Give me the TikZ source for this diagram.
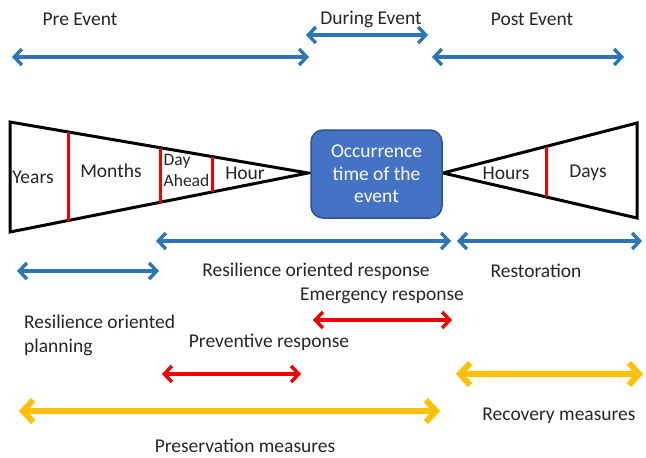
\documentclass[tikz,border=0pt]{standalone}
\usepackage{fontspec}
\setmainfont{Carlito}
\usetikzlibrary{arrows.meta}
\definecolor{spanblue}{HTML}{2E75B6}
\definecolor{spanred}{HTML}{F00000}
\definecolor{spangold}{HTML}{FFC000}
\definecolor{boxfill}{HTML}{4472C4}
\definecolor{boxedge}{HTML}{2F528F}
\tikzset{
  lbl/.style={font=\fontsize{19.5}{22}\selectfont, inner sep=0pt, text=black!85},
  span/.style={<->, line width=3.4pt, line cap=round,
    >={Straight Barb[length=7.5pt, width=16pt, line width=3.4pt]}},
  bluespan/.style={span, spanblue},
  redspan/.style={span, spanred},
  goldspan/.style={<->, line width=6pt, line cap=round, spangold,
    >={Straight Barb[length=10pt, width=22pt, line width=6pt]}},
  funnel/.style={line width=3pt, line join=miter, draw=black, fill=white},
  divider/.style={line width=3pt, spanred},
  eventbox/.style={rounded corners=12pt, fill=boxfill, draw=boxedge, line width=1.5pt,
    minimum width=131pt, minimum height=88pt, align=center, text=white,
    font=\fontsize{19.5}{22.5}\selectfont}
}
\begin{document}
\begin{tikzpicture}[x=1pt, y=-1pt]
\useasboundingbox (0,0) rectangle (646,458);

% phase headings and spans
\node[lbl] (pre)    at (80,19)  {Pre Event};
\node[lbl] (during) at (371,19) {During Event};
\node[lbl] (post)   at (532,19) {Post Event};
\coordinate (preA) at (12,57);   \coordinate (preB) at (309,57);
\coordinate (durA) at (306,35);  \coordinate (durB) at (428,35);
\coordinate (postA) at (432,57); \coordinate (postB) at (624,57);
\draw[bluespan] (preA) -- (preB);
\draw[bluespan] (durA) -- (durB);
\draw[bluespan] (postA) -- (postB);

% pre-event funnel
\coordinate (ltop) at (10,122);
\coordinate (lbot) at (10,232);
\coordinate (lapex) at (308,173);
\draw[funnel] (ltop) -- (lapex) -- (lbot) -- cycle;
\draw[divider] (68,131.5) -- (68,221);
\draw[divider] (160,147.5) -- (160,202.5);
\draw[divider] (212,156.5) -- (212,192);
\node[lbl] (years)  at (33,177)  {Years};
\node[lbl] (months) at (111,171) {Months};
\node[lbl, align=left, anchor=west, font=\fontsize{17.5}{21}\selectfont] (dayahead) at (163.5,170) {Day\\Ahead};
\node[lbl] (hour)   at (245,173) {Hour};

% post-event funnel
\coordinate (rapex) at (443,173);
\coordinate (rtop) at (637,123);
\coordinate (rbot) at (637,218);
\draw[funnel] (rapex) -- (rtop) -- (rbot) -- cycle;
\draw[divider] (546,147) -- (546,196.5);
\node[lbl] (hours) at (506,173) {Hours};
\node[lbl] (days)  at (588,173) {Days};

% event box
\node[eventbox] (event) at (376.5,174) {Occurrence\\time of the\\event};

% response spans
\coordinate (resA) at (156,241); \coordinate (resB) at (451,241);
\coordinate (rstA) at (457,241); \coordinate (rstB) at (642,241);
\coordinate (plnA) at (17,271);  \coordinate (plnB) at (159,271);
\draw[bluespan] (resA) -- (resB);
\draw[bluespan] (rstA) -- (rstB);
\draw[bluespan] (plnA) -- (plnB);
\node[lbl] (resresp) at (316,271) {Resilience oriented response};
\node[lbl] (restor)  at (536,271) {Restoration};
\node[lbl] (emerg)   at (382,296) {Emergency response};
\node[lbl, align=left, anchor=west, font=\fontsize{19.5}{24}\selectfont] (planning) at (24,335) {Resilience oriented\\planning};
\coordinate (emA) at (313,320); \coordinate (emB) at (452,320);
\draw[redspan] (emA) -- (emB);
\node[lbl] (prevent) at (269,342) {Preventive response};
\coordinate (pvA) at (162,374); \coordinate (pvB) at (301,374);
\draw[redspan] (pvA) -- (pvB);

% measures
\coordinate (rcA) at (456,374); \coordinate (rcB) at (643,374);
\coordinate (psA) at (19,411);  \coordinate (psB) at (440,411);
\draw[goldspan] (rcA) -- (rcB);
\draw[goldspan] (psA) -- (psB);
\node[lbl] (recov)   at (559,416) {Recovery measures};
\node[lbl] (preserv) at (245,446) {Preservation measures};
\end{tikzpicture}
\end{document}
